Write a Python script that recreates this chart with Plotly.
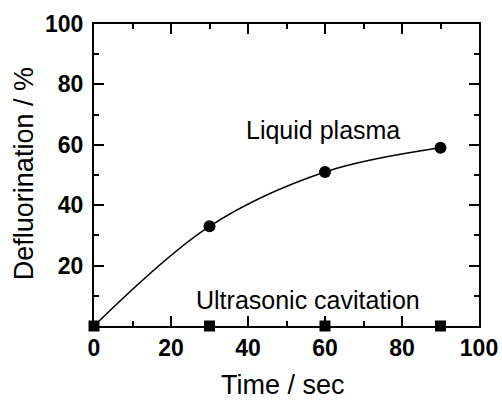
import plotly.graph_objects as go

time_sec = [0, 30, 60, 90]
liquid_plasma = [0, 33, 51, 59]
ultrasonic = [0, 0, 0, 0]
y_ticks = [20, 40, 60, 80, 100]
x_ticks = [0, 20, 40, 60, 80, 100]

FONT = "Liberation Sans, Arial"

fig = go.Figure()
fig.add_trace(go.Scatter(x=time_sec, y=liquid_plasma, mode="lines",
                         line=dict(color="black", width=1.5, shape="spline", smoothing=1.0),
                         showlegend=False, cliponaxis=False))
fig.add_trace(go.Scatter(x=time_sec[1:], y=liquid_plasma[1:], mode="markers",
                         marker=dict(symbol="circle", size=12, color="black"),
                         showlegend=False, cliponaxis=False))
fig.add_trace(go.Scatter(x=time_sec, y=ultrasonic, mode="markers",
                         marker=dict(symbol="square", size=11, color="black"),
                         showlegend=False, cliponaxis=False))

fig.add_annotation(x=59.5, y=65, text="Liquid plasma", showarrow=False,
                   font=dict(family=FONT, size=25, color="black"))
fig.add_annotation(x=55.6, y=8.6, text="Ultrasonic cavitation", showarrow=False,
                   font=dict(family=FONT, size=25, color="black"))

# axis titles
fig.add_annotation(xref="paper", yref="paper", x=0.49, y=-0.195, yanchor="middle",
                   text="Time / sec", showarrow=False,
                   font=dict(family=FONT, size=27, color="black"))
fig.add_annotation(xref="paper", yref="paper", x=-0.18, y=0.505, xanchor="center",
                   yanchor="middle", textangle=-90,
                   text="Defluorination / %", showarrow=False,
                   font=dict(family=FONT, size=27, color="black"))

axis_common = dict(showgrid=False, zeroline=False, showline=True, linecolor="black",
                   linewidth=2, mirror="ticks", ticks="inside", ticklen=10,
                   tickwidth=1.5, tickcolor="black", automargin=False,
                   tickfont=dict(family=FONT, size=23, color="black", weight="bold"))

fig.update_xaxes(range=[0, 100], tickvals=x_ticks,
                 minor=dict(dtick=10, ticks="inside", ticklen=5, tickwidth=1.5, tickcolor="black"),
                 **axis_common)
fig.update_yaxes(range=[0, 100], tickvals=y_ticks, ticklabelstandoff=4,
                 minor=dict(dtick=10, ticks="inside", ticklen=5, tickwidth=1.5, tickcolor="black"),
                 **axis_common)

fig.update_layout(width=502, height=400, margin=dict(l=94, r=23, t=24, b=74),
                  plot_bgcolor="white", paper_bgcolor="white")

fig.write_html("out.html", config={"displayModeBar": False},
               post_script="document.body.style.margin='0';document.body.style.overflow='hidden';")
